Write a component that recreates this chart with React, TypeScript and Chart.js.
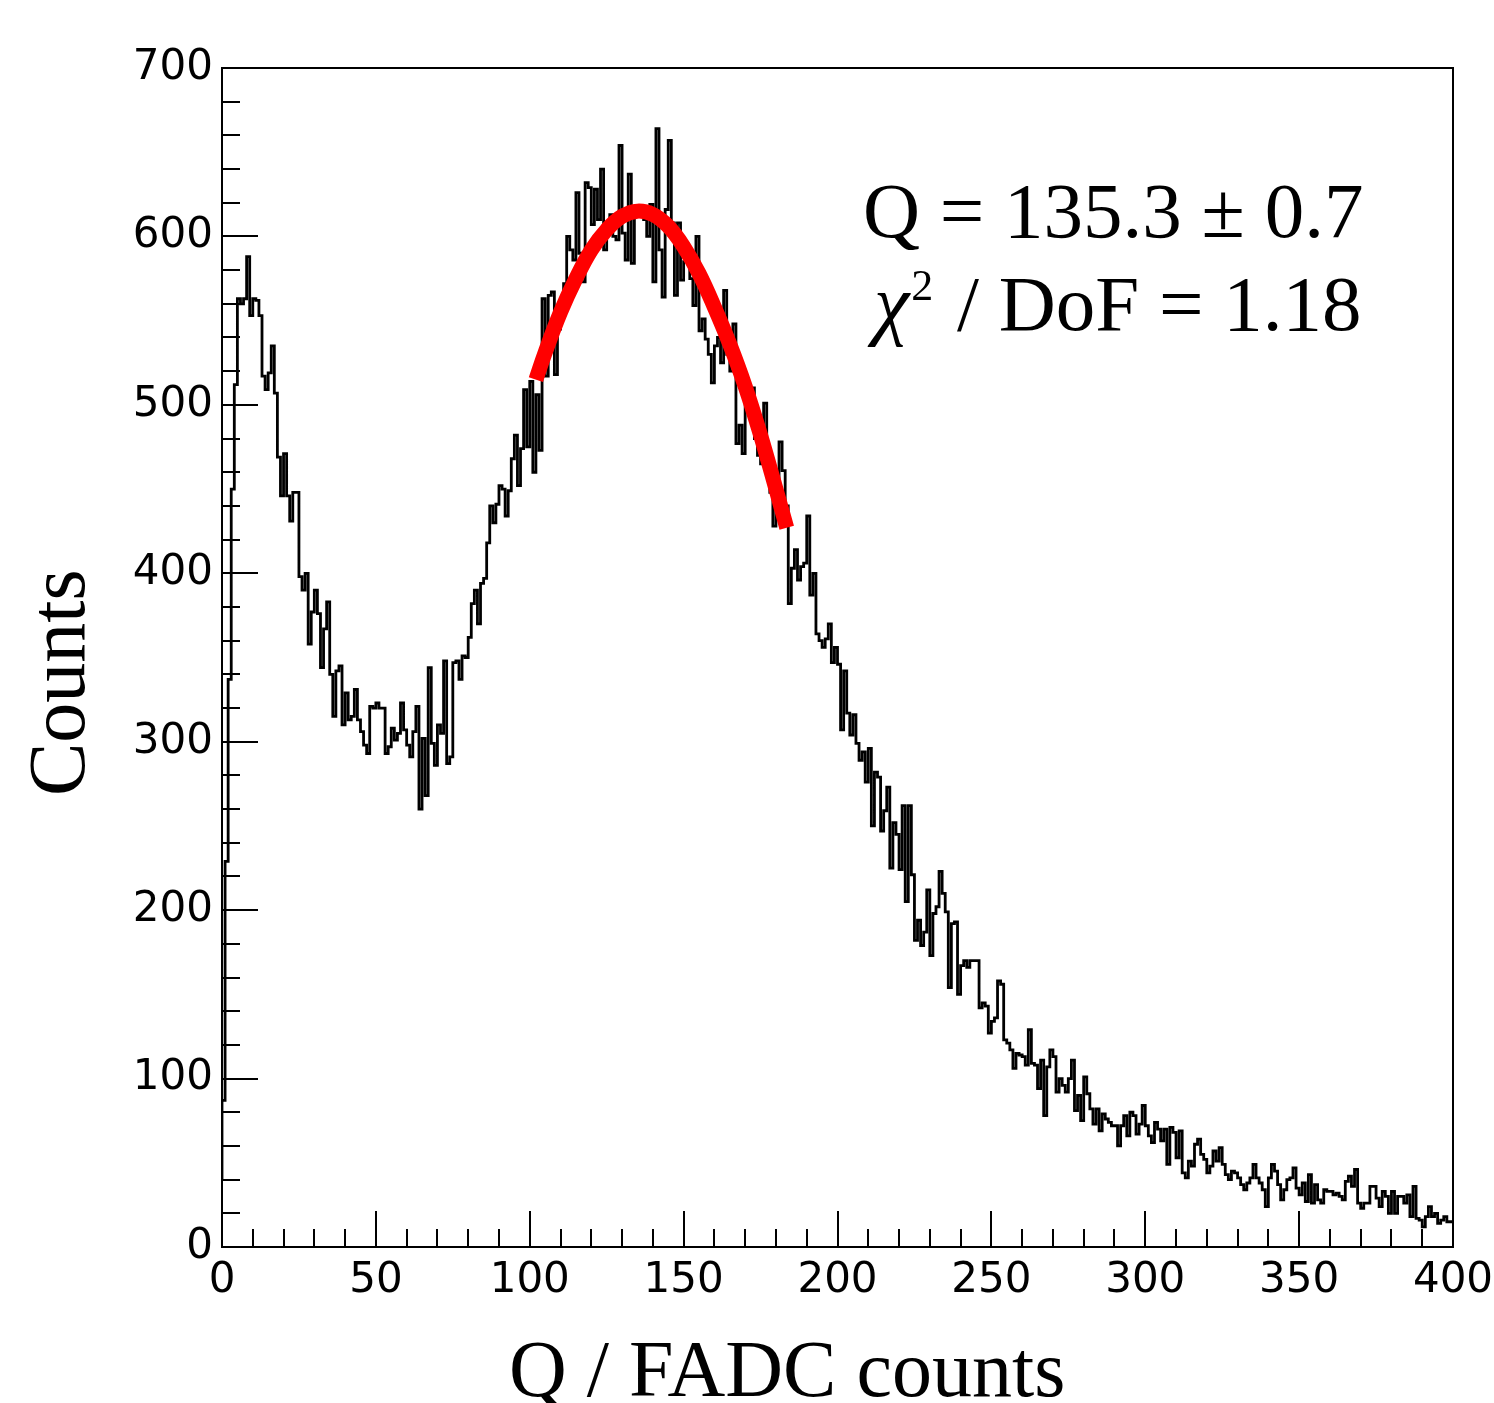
import React, { useEffect, useRef } from "react";
import { Chart, registerables } from "chart.js";

Chart.register(...registerables);

// ---------------- data ----------------
const BIN_LOW = 0;
const BIN_WIDTH = 1;

const counts000 = [
  40, 87, 229, 337, 450, 512, 563, 560, 563, 588,
  553, 563, 562, 553, 517, 509, 519, 535, 507, 469,
  446, 471, 446, 431, 448, 448, 398, 390, 400, 358,
  377, 390, 376, 344, 367, 383, 340, 315, 342, 345,
  310, 329, 313, 315, 331, 313, 306, 298, 293, 321,
];
const counts050 = [
  320, 323, 320, 320, 293, 297, 308, 301, 305, 323,
  307, 298, 291, 306, 321, 260, 302, 268, 344, 299,
  286, 310, 305, 348, 287, 291, 347, 348, 337, 351,
  350, 362, 382, 390, 370, 394, 397, 418, 440, 430,
  441, 452, 450, 434, 449, 468, 482, 452, 474, 509,
];
const counts100 = [
  475, 514, 460, 506, 473, 563, 517, 565, 567, 518,
  545, 560, 572, 600, 592, 586, 626, 590, 573, 632,
  629, 607, 628, 610, 640, 592, 607, 613, 600, 598,
  654, 602, 586, 637, 584, 616, 618, 617, 610, 600,
  619, 573, 664, 592, 564, 616, 657, 608, 565, 608,
];
const counts150 = [
  574, 585, 590, 575, 559, 600, 544, 551, 539, 530,
  513, 535, 540, 525, 568, 530, 520, 548, 477, 488,
  471, 500, 505, 510, 480, 470, 465, 501, 460, 448,
  428, 445, 478, 461, 440, 382, 403, 414, 396, 404,
  406, 434, 387, 400, 364, 360, 356, 361, 370, 347,
];
const counts200 = [
  356, 346, 307, 342, 317, 304, 316, 299, 289, 294,
  276, 296, 250, 282, 279, 247, 259, 273, 225, 252,
  245, 224, 262, 205, 262, 221, 182, 194, 179, 187,
  212, 173, 198, 202, 223, 210, 199, 154, 192, 193,
  150, 167, 170, 166, 170, 170, 170, 142, 145, 143,
];
const counts250 = [
  127, 134, 136, 158, 156, 123, 121, 117, 106, 115,
  114, 113, 108, 129, 109, 108, 94, 111, 78, 107,
  117, 113, 92, 100, 96, 92, 100, 111, 81, 90,
  75, 101, 91, 82, 73, 82, 69, 79, 76, 74,
  72, 72, 60, 72, 78, 66, 80, 78, 67, 73,
];
const counts300 = [
  84, 72, 66, 62, 74, 70, 63, 70, 49, 71,
  68, 53, 69, 44, 41, 51, 48, 61, 64, 55,
  52, 44, 48, 57, 51, 59, 49, 43, 40, 45,
  44, 41, 37, 34, 38, 41, 49, 41, 38, 34,
  24, 41, 49, 45, 37, 28, 34, 40, 41, 47,
];
const counts350 = [
  35, 31, 38, 27, 43, 26, 37, 28, 26, 34,
  33, 33, 31, 32, 30, 28, 39, 42, 36, 46,
  26, 23, 26, 26, 36, 36, 29, 24, 33, 30,
  20, 33, 20, 30, 30, 26, 31, 18, 36, 17,
  16, 12, 18, 24, 18, 20, 14, 16, 18, 15,
];

// fit curve (Q, counts)
const fitQ = [102, 105, 110, 115, 120, 125, 130, 135, 140, 145, 150, 155, 160, 165, 170, 175, 180, 183.5];
const fitCounts = [515, 531, 555, 575, 592, 604, 612, 615, 613, 606, 594, 578, 558, 536, 511, 482, 450, 427];

const X_MIN = 0;
const X_MAX = 400;
const X_MAJOR = 50;
const X_MINOR = 10;
const Y_MIN = 0;
const Y_MAX = 700;
const Y_MAJOR = 100;
const Y_MINOR = 20;

const X_TITLE = "Q / FADC counts";
const Y_TITLE = "Counts";
const FIT_LINE_1 = "Q = 135.3 \u00b1 0.7";
const FIT_CHI = "\u03c7";
const FIT_SUP = "2";
const FIT_LINE_2 = " / DoF = 1.18";

const counts = [
  ...counts000, ...counts050, ...counts100, ...counts150,
  ...counts200, ...counts250, ...counts300, ...counts350,
];

const SANS = '"DejaVu Sans", "Liberation Sans", Arial, sans-serif';
const SERIF = '"Liberation Serif", "Times New Roman", serif';

const rootFrame = {
  id: "rootFrame",
  afterDraw(chart: any) {
    const { ctx, chartArea: a, scales } = chart;
    const xs = scales.x;
    const ys = scales.y;
    ctx.save();
    ctx.strokeStyle = "#000";
    ctx.lineWidth = 2;
    ctx.strokeRect(a.left, a.top, a.right - a.left, a.bottom - a.top);
    ctx.beginPath();
    for (let v = Y_MIN; v <= Y_MAX; v += Y_MINOR) {
      const y = Math.round(ys.getPixelForValue(v));
      const len = v % Y_MAJOR === 0 ? 36 : 18;
      ctx.moveTo(a.left, y);
      ctx.lineTo(a.left + len, y);
    }
    for (let v = X_MIN; v <= X_MAX; v += X_MINOR) {
      const x = Math.round(xs.getPixelForValue(v));
      const len = v % X_MAJOR === 0 ? 36 : 18;
      ctx.moveTo(x, a.bottom);
      ctx.lineTo(x, a.bottom - len);
    }
    ctx.lineWidth = 2;
    ctx.stroke();

    // axis titles
    ctx.fillStyle = "#000";
    ctx.font = `80px ${SERIF}`;
    ctx.textBaseline = "alphabetic";
    ctx.textAlign = "left";
    ctx.fillText(X_TITLE, 509, 1396);

    ctx.save();
    ctx.translate(84, 796);
    ctx.rotate(-Math.PI / 2);
    ctx.fillText(Y_TITLE, 0, 0);
    ctx.restore();

    // fit result text
    ctx.font = `79px ${SERIF}`;
    ctx.fillText(FIT_LINE_1, 863, 237);
    const x2 = 874;
    ctx.font = `italic 80px ${SERIF}`;
    ctx.fillText(FIT_CHI, x2, 330);
    const chiW = ctx.measureText(FIT_CHI).width;
    ctx.font = `44px ${SERIF}`;
    ctx.fillText(FIT_SUP, x2 + chiW + 2, 300);
    const supW = ctx.measureText(FIT_SUP).width;
    ctx.font = `79px ${SERIF}`;
    ctx.fillText(FIT_LINE_2, x2 + chiW + supW + 6, 330);
    ctx.restore();
  },
};

export default function App() {
  const ref = useRef<HTMLCanvasElement | null>(null);

  useEffect(() => {
    if (!ref.current) return;
    const histPoints = counts.map((c, i) => ({ x: BIN_LOW + i * BIN_WIDTH, y: c }));
    histPoints.push({ x: BIN_LOW + counts.length * BIN_WIDTH, y: counts[counts.length - 1] });
    const fitPoints = fitQ.map((q, i) => ({ x: q, y: fitCounts[i] }));

    const chart = new Chart(ref.current, {
      type: "line",
      data: {
        datasets: [
          {
            label: "fit",
            data: fitPoints,
            borderColor: "#ff0000",
            borderWidth: 15,
            borderCapStyle: "butt",
            pointRadius: 0,
            tension: 0.4,
            fill: false,
            order: 0,
          },
          {
            label: "histogram",
            data: histPoints,
            borderColor: "#000",
            borderWidth: 2.8,
            pointRadius: 0,
            stepped: "after",
            fill: false,
            order: 1,
          },
        ],
      },
      options: {
        animation: false,
        responsive: false,
        devicePixelRatio: 1,
        layout: { padding: { left: 8, right: 41, top: 68, bottom: 0 } },
        plugins: {
          legend: { display: false },
          tooltip: { enabled: false },
          title: { display: false },
        },
        scales: {
          x: {
            type: "linear",
            min: X_MIN,
            max: X_MAX,
            grid: { display: false, drawTicks: false },
            border: { display: false },
            ticks: {
              stepSize: X_MAJOR,
              color: "#000",
              padding: 9,
              font: { family: SANS, size: 42 },
              maxRotation: 0,
              autoSkip: false,
            },
            afterFit(scale: any) {
              scale.height = 156;
              scale.paddingLeft = 0;
              scale.paddingRight = 0;
            },
          },
          y: {
            type: "linear",
            min: Y_MIN,
            max: Y_MAX,
            grid: { display: false, drawTicks: false },
            border: { display: false },
            ticks: {
              stepSize: Y_MAJOR,
              color: "#000",
              padding: 9,
              font: { family: SANS, size: 42 },
            },
            afterFit(scale: any) {
              scale.width = 214;
              scale.paddingTop = 0;
              scale.paddingBottom = 0;
            },
          },
        },
      },
      plugins: [rootFrame],
    });
    return () => chart.destroy();
  }, []);

  return (
    <div style={{ position: "absolute", left: 0, top: 0, width: 1494, height: 1403, background: "#fff" }}>
      <canvas ref={ref} width={1494} height={1403} style={{ width: 1494, height: 1403, display: "block" }} />
    </div>
  );
}
